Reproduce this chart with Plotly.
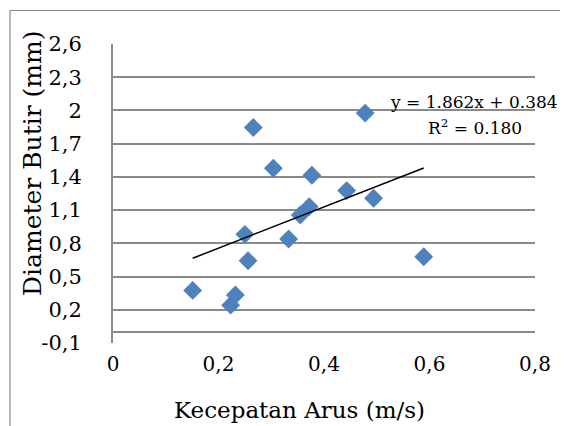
import plotly.graph_objects as go

# Data
kecepatan_arus = [0.151, 0.223, 0.232, 0.250, 0.256, 0.266, 0.304, 0.333,
                  0.355, 0.372, 0.377, 0.443, 0.478, 0.494, 0.589]
diameter_butir = [0.375, 0.242, 0.333, 0.881, 0.643, 1.846, 1.478, 0.839,
                  1.056, 1.131, 1.415, 1.276, 1.976, 1.207, 0.679]

trend_slope = 1.862
trend_intercept = 0.384
r_squared = 0.180

x_tickvals = [0, 0.2, 0.4, 0.6, 0.8]
x_ticktext = ["0", "0,2", "0,4", "0,6", "0,8"]
y_tickvals = [-0.1, 0.2, 0.5, 0.8, 1.1, 1.4, 1.7, 2.0, 2.3, 2.6]
y_ticktext = ["-0,1", "0,2", "0,5", "0,8", "1,1", "1,4", "1,7", "2", "2,3", "2,6"]

x_title = "Kecepatan Arus (m/s)"
y_title = "Diameter Butir (mm)"

FONT = "DejaVu Serif"
GRID = "#8a8a8a"

trend_x = [min(kecepatan_arus), max(kecepatan_arus)]
trend_y = [trend_slope * v + trend_intercept for v in trend_x]

fig = go.Figure()
fig.add_trace(go.Scatter(
    x=kecepatan_arus, y=diameter_butir, mode="markers",
    marker=dict(symbol="diamond", size=14.5, color="#4f81bd",
                line=dict(width=0)),
    showlegend=False, hoverinfo="x+y"))
fig.add_trace(go.Scatter(
    x=trend_x, y=trend_y, mode="lines",
    line=dict(color="black", width=1.5),
    showlegend=False, hoverinfo="skip"))

fig.update_layout(
    width=560, height=418,
    margin=dict(l=105, r=33, t=36, b=83),
    paper_bgcolor="white", plot_bgcolor="white",
    font=dict(family=FONT, size=20, color="black"),
    xaxis=dict(range=[0, 0.8], tickvals=x_tickvals, ticktext=x_ticktext,
               showgrid=False, zeroline=False, showline=False,
               ticks="outside", ticklen=3, tickcolor="rgba(0,0,0,0)",
               tickfont=dict(family=FONT, size=20)),
    yaxis=dict(range=[-0.1 - 1e-6, 2.6 + 1e-6], tickvals=y_tickvals,
               ticktext=y_ticktext,
               showgrid=True, gridcolor=GRID, gridwidth=2,
               zeroline=True, zerolinecolor=GRID, zerolinewidth=2,
               showline=True, linecolor=GRID, linewidth=2,
               ticks="outside", ticklen=25, tickcolor="rgba(0,0,0,0)",
               tickfont=dict(family=FONT, size=21)),
    shapes=[dict(type="rect", xref="paper", yref="paper",
                 x0=-0.244, x1=1.076, y0=-0.35, y1=1.112,
                 line=dict(color="#8a8a8a", width=1.2),
                 fillcolor="rgba(0,0,0,0)", layer="below")],
    annotations=[
        dict(text=x_title, xref="paper", yref="paper", x=0.441, y=-0.224,
             xanchor="center", yanchor="middle", showarrow=False,
             font=dict(family=FONT, size=23)),
        dict(text=y_title, xref="paper", yref="paper", x=-0.192, y=0.602,
             xanchor="center", yanchor="middle", showarrow=False,
             textangle=-90, font=dict(family=FONT, size=25)),
        dict(text="y = %.3fx + %.3f" % (trend_slope, trend_intercept),
             xref="paper", yref="paper", x=1.059, y=0.807,
             xanchor="right", yanchor="middle", showarrow=False,
             font=dict(family=FONT, size=17)),
        dict(text="R<sup>2</sup> = %.3f" % r_squared,
             xref="paper", yref="paper", x=0.974, y=0.722,
             xanchor="right", yanchor="middle", showarrow=False,
             font=dict(family=FONT, size=17)),
    ],
)

fig.write_html("out.html")
